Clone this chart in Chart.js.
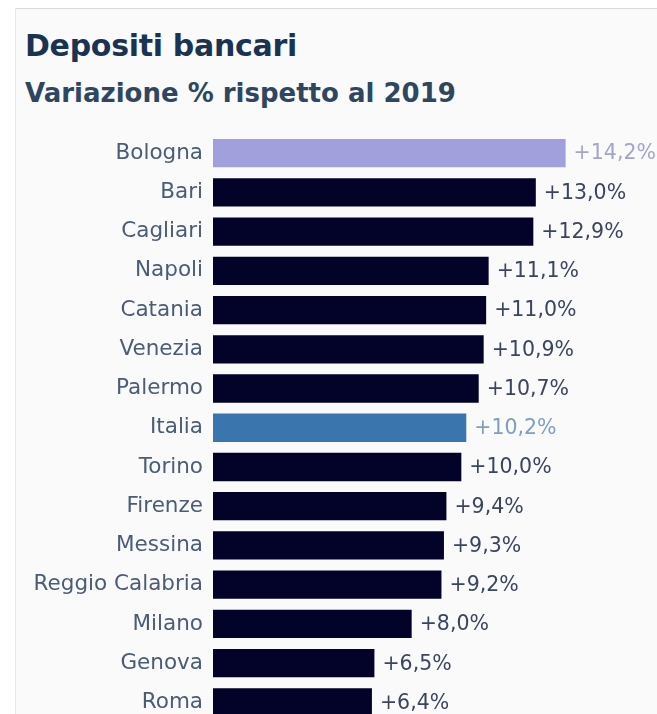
<!DOCTYPE html>
<html>
<head>
<meta charset="utf-8">
<script src="https://cdn.jsdelivr.net/npm/chart.js@4.4.1/dist/chart.umd.min.js"></script>
<style>
    html, body { margin: 0; padding: 0; background: #fff; overflow: hidden; }
    body { width: 657px; height: 714px; position: relative; }
    .frame {
        position: absolute; left: 15px; top: 8px; right: 0; bottom: -20px;
        border-top: 1px solid #d9d9d9; border-left: 1px solid #e9e9e9;
        background: #fafafa;
    }
    .title {
        position: absolute; left: 25px; top: 31px; margin: 0; white-space: nowrap;
        font: 700 30px "DejaVu Sans", sans-serif; line-height: 30px; color: #1b3352;
        letter-spacing: -0.3px;
    }
    .subtitle {
        position: absolute; left: 25px; top: 80px; margin: 0; white-space: nowrap;
        font: 700 26px "DejaVu Sans", sans-serif; line-height: 26px; color: #2f4660;
        letter-spacing: 0;
    }
    #canvas { position: absolute; left: 16px; top: 9px; width: 641px; height: 736px; }
</style>
</head>
<body>
<div class="frame"></div>
<div class="title">Depositi bancari</div>
<div class="subtitle">Variazione % rispetto al 2019</div>
<canvas id="canvas" width="641" height="736"></canvas>
<script>
var CITIES = ['Bologna', 'Bari', 'Cagliari', 'Napoli', 'Catania', 'Venezia', 'Palermo', 'Italia',
    'Torino', 'Firenze', 'Messina', 'Reggio Calabria', 'Milano', 'Genova', 'Roma'
];
var VALUES = [14.2, 13.0, 12.9, 11.1, 11.0, 10.9, 10.7, 10.2, 10.0, 9.4, 9.3, 9.2, 8.0, 6.5, 6.4];

var HIGHLIGHT = 'Bologna';
var NATIONAL = 'Italia';

function barColor(i) {
    if (CITIES[i] === HIGHLIGHT) return '#a29fdd';
    if (CITIES[i] === NATIONAL) return '#3b75ae';
    return '#03032a';
}

function valueColor(i) {
    if (CITIES[i] === HIGHLIGHT) return '#a2a5cb';
    if (CITIES[i] === NATIONAL) return '#7e9fc3';
    return '#3a465e';
}

function fmt(v) {
    return '+' + v.toFixed(1).replace('.', ',') + '%';
}

var valueLabels = {
    id: 'valueLabels',
    afterDatasetsDraw: function(chart) {
        var ctx = chart.ctx;
        var meta = chart.getDatasetMeta(0);
        ctx.save();
        ctx.font = '20.5px "DejaVu Sans"';
        ctx.textBaseline = 'middle';
        ctx.textAlign = 'left';
        meta.data.forEach(function(bar, i) {
            ctx.fillStyle = valueColor(i);
            ctx.fillText(fmt(VALUES[i]), bar.x + 8, bar.y + 1);
        });
        ctx.restore();
    }
};

window.onload = function() {
    var ctx = document.getElementById('canvas').getContext('2d');
    window.myBar = new Chart(ctx, {
        type: 'bar',
        data: {
            labels: CITIES,
            datasets: [{
                data: VALUES,
                backgroundColor: CITIES.map(function(c, i) { return barColor(i); }),
                borderWidth: 0,
                barPercentage: 0.72,
                categoryPercentage: 1
            }]
        },
        options: {
            indexAxis: 'y',
            responsive: false,
            devicePixelRatio: 1,
            animation: false,
            layout: {
                padding: { top: 124.4, left: 0, right: 0, bottom: 0 }
            },
            plugins: {
                legend: { display: false },
                title: { display: false },
                tooltip: { enabled: false }
            },
            scales: {
                x: {
                    min: 0,
                    max: 17.88,
                    display: false
                },
                y: {
                    grid: { display: false, drawTicks: false },
                    border: { display: false },
                    afterFit: function(scale) { scale.width = 197; },
                    ticks: {
                        padding: 10,
                        color: '#4a5c76',
                        font: { family: '"DejaVu Sans"', size: 21.5 }
                    }
                }
            }
        },
        plugins: [valueLabels]
    });
};
</script>
</body>
</html>
